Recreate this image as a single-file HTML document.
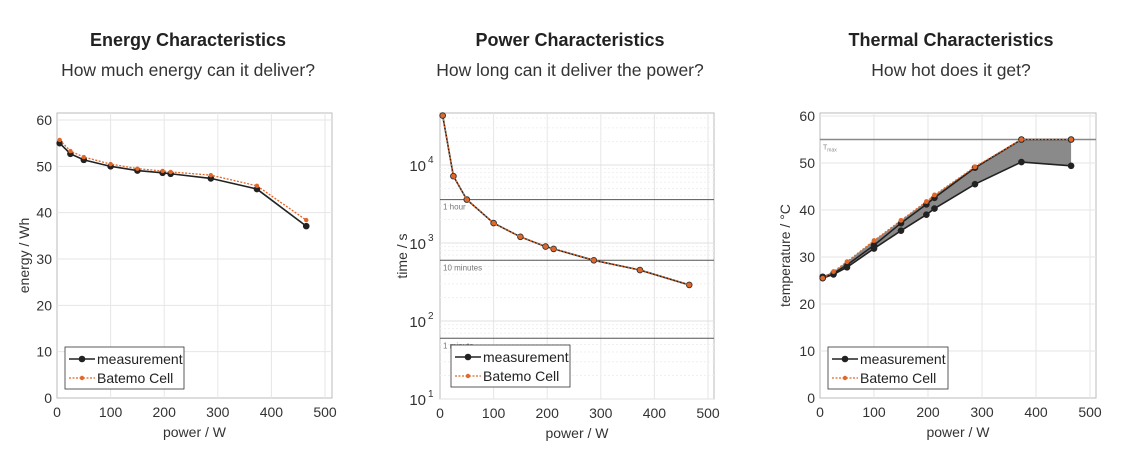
<!DOCTYPE html>
<html><head><meta charset="utf-8"><style>
body{margin:0;background:#fff;width:1141px;height:471px;overflow:hidden;font-family:"Liberation Sans",sans-serif}
svg{position:absolute;left:0;top:0}
</style></head><body>
<svg id="s" width="1141" height="471" xmlns="http://www.w3.org/2000/svg" font-family="Liberation Sans, sans-serif"></svg>
<script>
const s=document.getElementById('s');let h='';
const P=[5,25,50,100,150,197,212,287,373,465];
function txt(x,y,t,o){o=o||{};h+=`<text x="${x}" y="${y}" font-size="${o.fs||14}" fill="${o.c||'#333'}" text-anchor="${o.a||'middle'}" ${o.w?'font-weight="bold"':''} ${o.tr?`transform="${o.tr}"`:''}>${t}</text>`;}
function line(pts,c,w,d){h+=`<polyline points="${pts.map(p=>p.join(',')).join(' ')}" fill="none" stroke="${c}" stroke-width="${w}" ${d?`stroke-dasharray="${d}"`:''}/>`;}
function dots(pts,c,r){pts.forEach(p=>h+=`<circle cx="${p[0]}" cy="${p[1]}" r="${r}" fill="${c}"/>`);}
function titles(cx,t,sub){txt(cx,46,t,{fs:18,w:1,c:'#222'});txt(cx,76,sub,{fs:17.5,c:'#333'});}
function legend(x,y,w){h+=`<rect x="${x}" y="${y}" width="${w}" height="42" fill="#fff" stroke="#333" stroke-width="0.8"/>`;
line([[x+4,y+12],[x+30,y+12]],'#222',1.6);dots([[x+17,y+12]],'#222',3.3);txt(x+32,y+17,'measurement',{a:'start',fs:14,c:'#222'});
line([[x+4,y+31],[x+30,y+31]],'#e0682a',1.3,'2,1.5');dots([[x+17,y+31]],'#e0682a',2.2);txt(x+32,y+36,'Batemo Cell',{a:'start',fs:14,c:'#222'});}
function xaxis(x0,x1,bot,sc){for(let v=0;v<=500;v+=100){let x=x0+v*sc;txt(x,bot+19,v);} txt((x0+x1)/2,bot+39,'power / W');}
// Chart 1
titles(188,'Energy Characteristics','How much energy can it deliver?');
{let x0=57,sc=0.536,bot=398,top=113,R=332,ys=4.633;
h+=`<rect x="${x0}" y="${top}" width="${R-x0}" height="${bot-top}" fill="#fff" stroke="#bbb"/>`;
for(let v=100;v<=500;v+=100)h+=`<line x1="${x0+v*sc}" y1="${top}" x2="${x0+v*sc}" y2="${bot}" stroke="#e6e6e6"/>`;
for(let v=10;v<=60;v+=10)h+=`<line x1="${x0}" y1="${bot-v*ys}" x2="${R}" y2="${bot-v*ys}" stroke="#e6e6e6"/>`;
for(let v=0;v<=60;v+=10)txt(x0-5,bot-v*ys+5,v,{a:'end'});
xaxis(x0,R,bot,sc);txt(0,0,'energy / Wh',{tr:`translate(29,${(top+bot)/2}) rotate(-90)`});
let m=[55,52.7,51.4,50,49.1,48.6,48.4,47.4,45.1,37.1],b=[55.7,53.3,52,50.5,49.5,49,48.8,48.1,45.8,38.4];
let bp=P.map((p,i)=>[x0+p*sc,bot-b[i]*ys]),mp=P.map((p,i)=>[x0+p*sc,bot-m[i]*ys]);
line(mp,'#222',1.6);dots(mp,'#222',3.3);line(bp,'#e0682a',1.3,'2,1.5');dots(bp,'#e0682a',2.2);
legend(65,347,119);}
// Chart 2
titles(570,'Power Characteristics','How long can it deliver the power?');
{let x0=440,sc=0.536,bot=399,top=113,R=714,dec=78;const Y=v=>bot-(Math.log10(v)-1)*dec;
h+=`<rect x="${x0}" y="${top}" width="${R-x0}" height="${bot-top}" fill="#fff" stroke="#bbb"/>`;
for(let v=100;v<=500;v+=100)h+=`<line x1="${x0+v*sc}" y1="${top}" x2="${x0+v*sc}" y2="${bot}" stroke="#e6e6e6"/>`;
for(let d=1;d<=4;d++)for(let k=1;k<10;k++){let y=Y(k*Math.pow(10,d));if(y>top)h+=`<line x1="${x0}" y1="${y}" x2="${R}" y2="${y}" stroke="${k==1?'#e0e0e0':'#f0f0f0'}" ${k==1?'':'stroke-dasharray="2,2"'}/>`;}
[1,2,3,4].forEach(i=>{let y=Y(Math.pow(10,i));h+=`<text x="${x0-14}" y="${y+6}" font-size="15" fill="#333" text-anchor="end">10</text><text x="${x0-12}" y="${y-2}" font-size="10" fill="#333">${i}</text>`;});
[[3600,'1 hour'],[600,'10 minutes'],[60,'1 minute']].forEach(e=>{let y=Y(e[0]);h+=`<line x1="${x0}" y1="${y}" x2="${R}" y2="${y}" stroke="#555" stroke-width="1"/>`;txt(x0+3,y+10,e[1],{a:'start',fs:8,c:'#777'});});
xaxis(x0,R,bot,sc);txt(0,0,'time / s',{tr:`translate(407,${(top+bot)/2}) rotate(-90)`});
let t=[43000,7200,3600,1800,1200,900,840,600,450,290];
let pts=P.map((p,i)=>[x0+p*sc,Y(t[i])]);
line(pts,'#222',1.6);dots(pts,'#333',3.3);line(pts,'#e0682a',1.3,'2,1.5');dots(pts,'#e0682a',2.4);
legend(451,345,119);}
// Chart 3
titles(951,'Thermal Characteristics','How hot does it get?');
{let x0=820,sc=0.54,bot=398,top=113,R=1096,ys=4.7;
h+=`<rect x="${x0}" y="${top}" width="${R-x0}" height="${bot-top}" fill="#fff" stroke="#bbb"/>`;
for(let v=100;v<=500;v+=100)h+=`<line x1="${x0+v*sc}" y1="${top}" x2="${x0+v*sc}" y2="${bot}" stroke="#e6e6e6"/>`;
for(let v=10;v<=60;v+=10)h+=`<line x1="${x0}" y1="${bot-v*ys}" x2="${R}" y2="${bot-v*ys}" stroke="#e6e6e6"/>`;
for(let v=0;v<=60;v+=10)txt(x0-5,bot-v*ys+5,v,{a:'end'});
xaxis(x0,R,bot,sc);txt(0,0,'temperature / °C',{tr:`translate(790,${(top+bot)/2}) rotate(-90)`});
let lo=[25.5,26.3,27.8,31.8,35.6,39,40.3,45.5,50.2,49.4],up=[25.8,26.5,28.3,32.5,37.2,41.2,42.6,49,55,55],b=[25.5,26.9,29,33.5,37.8,41.8,43.2,49.2,55,55];
let f=p=>P.map((q,i)=>[x0+q*sc,bot-p[i]*ys]);
let lp=f(lo),upp=f(up),bp=f(b);
h+=`<polygon points="${lp.concat(bp.slice().reverse()).map(p=>p.join(',')).join(' ')}" fill="#8a8a8a"/>`;
let ty=bot-55*ys;h+=`<line x1="${x0}" y1="${ty}" x2="${R}" y2="${ty}" stroke="#888" stroke-width="1.5"/>`;
h+=`<text x="${x0+3}" y="${ty+10}" font-size="7" fill="#888">T<tspan font-size="5" dy="2">max</tspan></text>`;
line(lp,'#222',1.6);dots(lp,'#222',3.3);line(upp,'#222',1.6);dots(upp,'#222',3.3);line(bp,'#e0682a',1.3,'2,1.5');dots(bp,'#e0682a',2.4);
legend(828,347,120);}
s.innerHTML=h;
</script>
</body></html>
